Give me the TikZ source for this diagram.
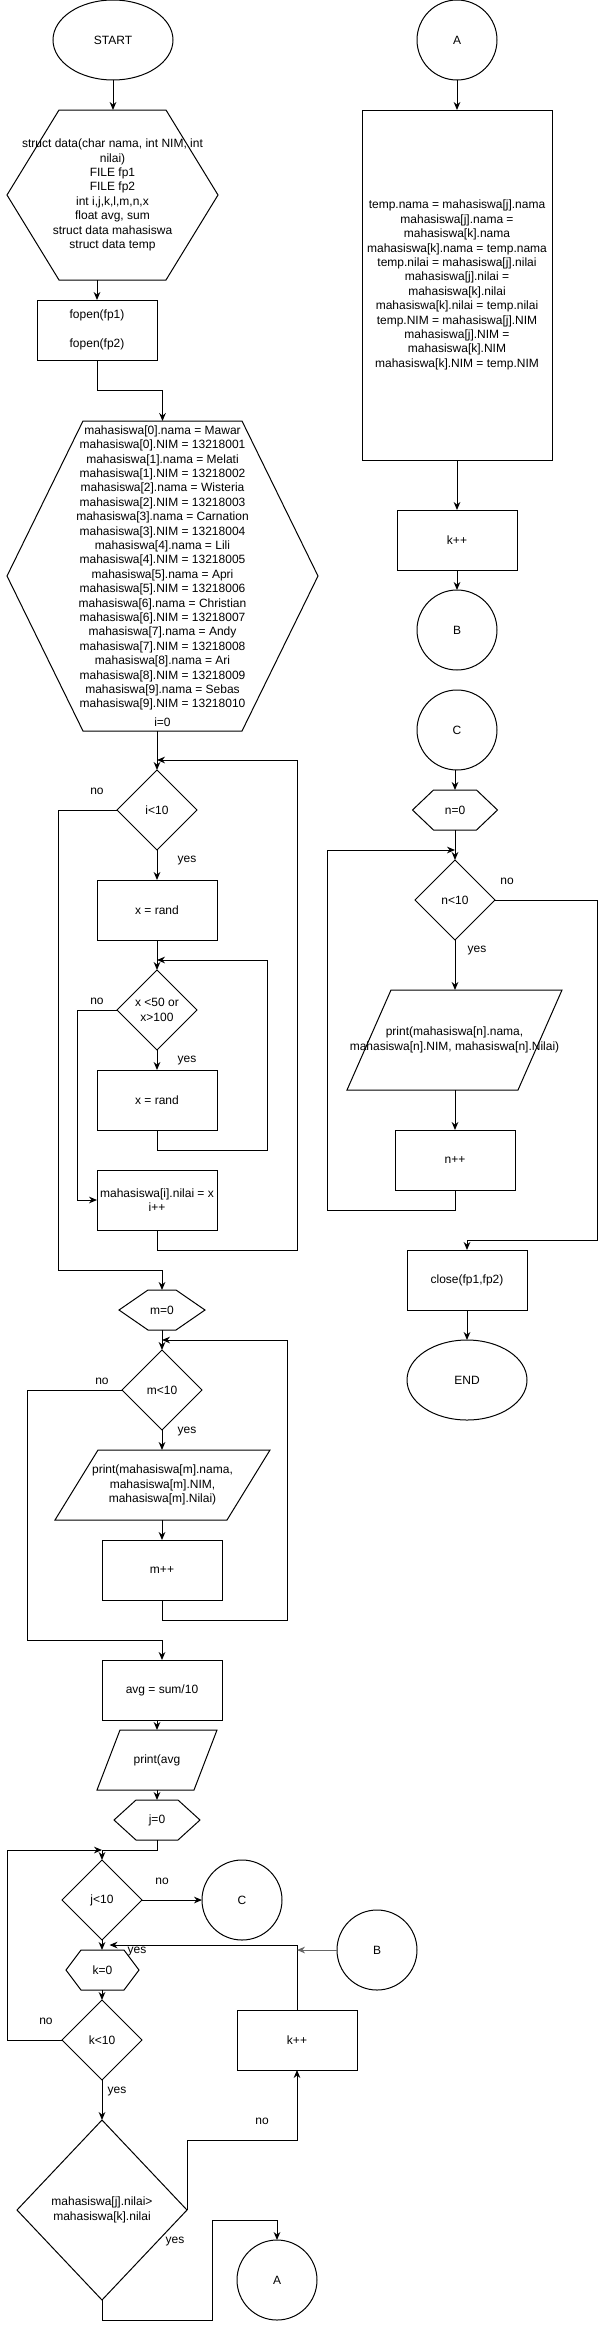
\documentclass[tikz,border=0pt]{standalone}
\usepackage{fontspec}
\setmainfont{Liberation Sans}
\usetikzlibrary{shapes.geometric,arrows.meta,calc}
\newcommand\diafont{\fontsize{9}{10.8}\selectfont}
\newcommand\hexshape[2]{\draw[ln] (#1.west) -- ($(#1.north west)+(#2,0)$) -- ($(#1.north east)-(#2,0)$) -- (#1.east) -- ($(#1.south east)-(#2,0)$) -- ($(#1.south west)+(#2,0)$) -- cycle;}
\newcommand\parashape[2]{\draw[ln] (#1.south west) -- ($(#1.north west)+(#2,0)$) -- (#1.north east) -- ($(#1.south east)-(#2,0)$) -- cycle;}
\tikzset{
  base/.style={font=\diafont, line width=0.75pt, inner sep=0pt, outer sep=0pt, align=center},
  proc/.style={base, draw, rectangle},
  term/.style={base, draw, ellipse},
  conn/.style={base, draw, circle, minimum size=60pt},
  dec/.style={base, draw, diamond},
  ghost/.style={base, rectangle},
  lbl/.style={font=\diafont, inner sep=0pt},
  ln/.style={line width=0.75pt},
  arr/.style={ln, -{Stealth[length=6pt,width=5pt]}},
  sz/.style 2 args={minimum width=#1*0.75pt, minimum height=#2*0.75pt},
}
\begin{document}
\begin{tikzpicture}[x=0.75pt,y=-0.75pt]
\path[use as bounding box] (0,0) rectangle (607,2330);

% ---------- left column ----------
\node[term, sz={120}{80}] (start) at (113,40) {START};
\node[ghost, sz={211}{170}] (h1) at (112.5,195) {struct data(char nama, int NIM, int\\nilai)\\FILE fp1\\FILE fp2\\int i,j,k,l,m,n,x\\float avg, sum\\struct data mahasiswa\\struct data temp};
\hexshape{h1}{52}
\node[proc, sz={120}{60}] (fopen) at (97,330) {fopen(fp1)\\[10.8pt]fopen(fp2)};
\node[ghost, sz={311}{310}] (h2) at (162.5,576) {mahasiswa[0].nama = Mawar\\mahasiswa[0].NIM = 13218001\\mahasiswa[1].nama = Melati\\mahasiswa[1].NIM = 13218002\\mahasiswa[2].nama = Wisteria\\mahasiswa[2].NIM = 13218003\\mahasiswa[3].nama = Carnation\\mahasiswa[3].NIM = 13218004\\mahasiswa[4].nama = Lili\\mahasiswa[4].NIM = 13218005\\mahasiswa[5].nama = Apri\\mahasiswa[5].NIM = 13218006\\mahasiswa[6].nama = Christian\\mahasiswa[6].NIM = 13218007\\mahasiswa[7].nama = Andy\\mahasiswa[7].NIM = 13218008\\mahasiswa[8].nama = Ari\\mahasiswa[8].NIM = 13218009\\mahasiswa[9].nama = Sebas\\mahasiswa[9].NIM = 13218010\\[3pt]i=0};
\hexshape{h2}{76}
\node[dec, sz={80}{80}] (d1) at (157,810) {i<10};
\node[proc, sz={120}{60}] (r1) at (157,910) {x = rand};
\node[dec, sz={80}{80}] (d2) at (157,1010) {x <50 or\\x>100};
\node[proc, sz={120}{60}] (r2) at (157,1100) {x = rand};
\node[proc, sz={120}{60}] (r3) at (157,1200) {mahasiswa[i].nilai = x\\i++};
\node[ghost, sz={86}{40}] (h3) at (162,1310) {m=0};
\hexshape{h3}{29}
\node[dec, sz={80}{80}] (d3) at (162,1390) {m<10};
\node[ghost, sz={215}{70}] (p1) at (162.5,1485) {print(mahasiswa[m].nama,\\mahasiswa[m].NIM,\\mahasiswa[m].Nilai)};
\parashape{p1}{43}
\node[proc, sz={120}{60}] (r4) at (162,1570) {m++};
\node[proc, sz={120}{60}] (r5) at (162,1690) {avg = sum/10};
\node[ghost, sz={120}{60}] (p2) at (157,1760) {print(avg};
\parashape{p2}{23}
\node[ghost, sz={86}{40}] (h4) at (157,1820) {j=0};
\hexshape{h4}{22}
\node[dec, sz={80}{80}] (d4) at (102,1900) {j<10};
\node[conn] (c2) at (242,1900) {C};
\node[ghost, sz={73}{40}] (h5) at (102.5,1970) {k=0};
\hexshape{h5}{15}
\node[dec, sz={80}{80}] (d5) at (102,2040) {k<10};
\node[proc, sz={120}{60}] (r6) at (297,2040) {k++};
\node[conn] (b2) at (377,1950) {B};
\node[dec, sz={170}{180}] (d6) at (102,2210) {mahasiswa[j].nilai>\\mahasiswa[k].nilai};
\node[conn] (a2) at (277,2280) {A};

% ---------- right column ----------
\node[conn] (a1) at (457,40) {A};
\node[proc, sz={190}{350}] (r7) at (457,285) {temp.nama = mahasiswa[j].nama\\mahasiswa[j].nama =\\mahasiswa[k].nama\\mahasiswa[k].nama = temp.nama\\temp.nilai = mahasiswa[j].nilai\\mahasiswa[j].nilai =\\mahasiswa[k].nilai\\mahasiswa[k].nilai = temp.nilai\\temp.NIM = mahasiswa[j].NIM\\mahasiswa[j].NIM =\\mahasiswa[k].NIM\\mahasiswa[k].NIM = temp.NIM};
\node[proc, sz={120}{60}] (r8) at (457,540) {k++};
\node[conn] (b1) at (457,630) {B};
\node[conn] (c1) at (457,730) {C};
\node[ghost, sz={85}{40}] (h6) at (455,810) {n=0};
\hexshape{h6}{21}
\node[dec, sz={80}{80}] (d7) at (455,900) {n<10};
\node[ghost, sz={215}{100}] (p3) at (454.5,1040) {print(mahasiswa[n].nama,\\mahasiswa[n].NIM, mahasiswa[n].Nilai)};
\parashape{p3}{44}
\node[proc, sz={120}{60}] (r9) at (455,1160) {n++};
\node[proc, sz={120}{60}] (r10) at (467,1280) {close(fp1,fp2)};
\node[term, sz={120}{80}] (end) at (467,1380) {END};

% ---------- labels ----------
\node[lbl] (l1) at (97,791) {no};
\node[lbl] (l2) at (187,861) {yes};
\node[lbl] (l3) at (97,1001) {no};
\node[lbl] (l4) at (187,1061) {yes};
\node[lbl] (l5) at (102,1381) {no};
\node[lbl] (l6) at (187,1431) {yes};
\node[lbl] (l7) at (162,1881) {no};
\node[lbl] (l8) at (137,1951) {yes};
\node[lbl] (l9) at (46,2021) {no};
\node[lbl] (l10) at (117,2091) {yes};
\node[lbl] (l11) at (262,2121) {no};
\node[lbl] (l12) at (175,2241) {yes};
\node[lbl] (l13) at (507,881) {no};
\node[lbl] (l14) at (477,951) {yes};

% ---------- connectors left ----------
\draw[arr] (start.south) -- (start.south |- h1.north);
\draw[arr] (fopen.north |- h1.south) -- (fopen.north);
\draw[arr] (fopen.south) -- ++(0,30) -| (h2.north);
\draw[arr] (d1.north |- h2.south) -- (d1.north);
\draw[arr] (d1.west) -- ++(-59,0) |- ([yshift=15pt]h3.north) -- (h3.north);
\draw[arr] (d1.south) -- (r1.north);
\draw[arr] (r1.south) -- (d2.north);
\draw[arr] (d2.west) -- ++(-40,0) |- (r3.west);
\draw[arr] (d2.south) -- (r2.north);
\draw[arr] (r2.south) -- ++(0,20) -- ++(110,0) |- ([yshift=7.5pt]d2.north);
\draw[arr] (r3.south) -- ++(0,20) -- ++(140,0) |- ([yshift=7.5pt]d1.north);
\draw[arr] (h3.south) -- (d3.north);
\draw[arr] (d3.west) -- ++(-95,0) |- ([yshift=15pt]r5.north) -- (r5.north);
\draw[arr] (d3.south) -- (d3.south |- p1.north);
\draw[arr] (p1.south -| r4.north) -- (r4.north);
\draw[arr] (r4.south) -- ++(0,20) -- ++(125,0) |- ([yshift=7.5pt]d3.north);
\draw[arr] (r5.south -| p2.north) -- (p2.north);
\draw[arr] (p2.south -| h4.north) -- (h4.north);
\draw[arr] (h4.south) -- ++(0,10) -| (d4.north);
\draw[arr] (d5.west) -- ++(-55,0) |- ([yshift=7.5pt]d4.north);
\draw[arr] (d4.east) -- (c2.west);
\draw[arr] (d4.south) -- (d4.south |- h5.north);
\draw[arr] (r6.north) |- ([xshift=5.25pt,yshift=3.75pt]h5.north);
\draw[arr, draw=black!60] (b2.west) -- (r6.north |- b2.west);
\draw[arr] (h5.south -| d5.north) -- (d5.north);
\draw[arr] (d5.south) -- (d6.north);
\draw[arr] (d6.east) -- ++(0,-70) -| (r6.south);
\draw[arr] (d6.south) -- ++(0,20) -- ++(110,0) |- ([yshift=15pt]a2.north) -- (a2.north);

% ---------- connectors right ----------
\draw[arr] (a1.south) -- (r7.north);
\draw[arr] (r7.south) -- (r8.north);
\draw[arr] (r8.south) -- (b1.north);
\draw[arr] (c1.south -| h6.north) -- (h6.north);
\draw[arr] (h6.south) -- (d7.north);
\draw[arr] (d7.south) -- (d7.south |- p3.north);
\draw[arr] (p3.south -| r9.north) -- (r9.north);
\draw[arr] (r9.south) -- ++(0,20) -- ++(-128,0) |- ([yshift=7.5pt]d7.north);
\draw[arr] (d7.east) -- ++(102,0) |- ([yshift=7.5pt]r10.north) -- (r10.north);
\draw[arr] (r10.south) -- (end.north);
\end{tikzpicture}
\end{document}
